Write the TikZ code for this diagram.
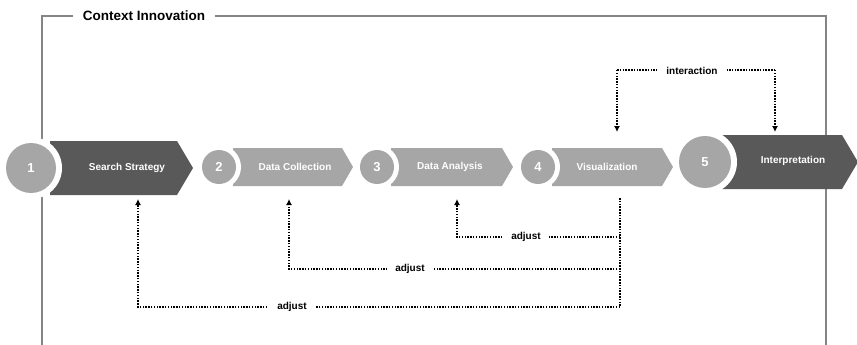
\documentclass[tikz,border=0pt]{standalone}
\usepackage{fontspec}
\setmainfont{Liberation Sans}
\usetikzlibrary{arrows.meta}
\definecolor{darkg}{HTML}{595959}
\definecolor{lightg}{HTML}{A6A6A6}
\definecolor{frameg}{HTML}{858585}
\tikzset{
  framestyle/.style={draw=frameg,line width=1.6pt},
  dotline/.style={line width=1.8pt,dash pattern=on 1.5pt off 1.3pt,black},
  dotarrow/.style={dotline,-{Latex[length=6pt,width=6pt]}},
  lbl/.style={fill=white,inner ysep=1pt,inner xsep=8pt,font=\bfseries\fontsize{10}{12}\selectfont},
  steptext/.style={text=white,font=\bfseries\fontsize{10}{12}\selectfont},
  numtext/.style={text=white,font=\bfseries\fontsize{13}{15}\selectfont},
}
\begin{document}
\begin{tikzpicture}[x=1pt,y=-1pt]
\useasboundingbox (0,0) rectangle (857,345);
% frame
\draw[framestyle] (42,345) -- (42,16) -- (826,16) -- (826,345);
\node[fill=white,inner xsep=10pt,inner ysep=2pt,font=\bfseries\fontsize{13.5}{16}\selectfont] (title) at (144,16) {Context Innovation};
% chevrons
\fill[darkg] (50,141) -- (177,141) -- (193,168) -- (177,195) -- (50,195) -- cycle;
\fill[lightg] (233,148) -- (342,148) -- (353,167) -- (342,186) -- (233,186) -- cycle;
\fill[lightg] (391,148) -- (502,148) -- (513,167) -- (502,186) -- (391,186) -- cycle;
\fill[lightg] (552,148) -- (662,148) -- (673,167) -- (662,186) -- (552,186) -- cycle;
\fill[darkg] (722,135) -- (842,135) -- (858,162) -- (842,189) -- (722,189) -- cycle;
% circles with white ring
\fill[white] (31,168) circle (31);
\fill[white] (219,167) circle (22);
\fill[white] (377,167) circle (22);
\fill[white] (538,167) circle (22);
\fill[white] (705,162) circle (32);
\node[circle,fill=lightg,minimum size=50pt,inner sep=0pt,numtext] (c1) at (31,168) {1};
\node[circle,fill=lightg,minimum size=34pt,inner sep=0pt,numtext] (c2) at (219,167) {2};
\node[circle,fill=lightg,minimum size=34pt,inner sep=0pt,numtext] (c3) at (377,167) {3};
\node[circle,fill=lightg,minimum size=34pt,inner sep=0pt,numtext] (c4) at (538,167) {4};
\node[circle,fill=lightg,minimum size=52pt,inner sep=0pt,numtext] (c5) at (705,162) {5};
% step texts
\node[steptext] (s1) at (127,168) {Search Strategy};
\node[steptext] (s2) at (295,167) {Data Collection};
\node[steptext] (s3) at (450,167) {Data Analysis};
\node[steptext] (s4) at (607,167) {Visualization};
\node[steptext] (s5) at (793,161) {Interpretation};
% connector anchor points
\coordinate (vtop) at (620,198);
\coordinate (vbot) at (620,307);
\coordinate (j1) at (620,237);
\coordinate (j2) at (620,269);
\coordinate (k1) at (457,237);
\coordinate (k2) at (289,269);
\coordinate (k3) at (138,307);
\coordinate (e1) at (457,199);
\coordinate (e2) at (289,199);
\coordinate (e3) at (138,199);
\coordinate (i1) at (617,70);
\coordinate (i2) at (775,70);
\coordinate (f1) at (617,132);
\coordinate (f2) at (775,132);
% adjust connectors
\draw[dotline] (vtop) -- (vbot);
\draw[dotarrow] (j1) -- (k1) -- (e1);
\draw[dotarrow] (j2) -- (k2) -- (e2);
\draw[dotarrow] (vbot) -- (k3) -- (e3);
\node[lbl] (a1) at (526,237) {adjust};
\node[lbl] (a2) at (410,269) {adjust};
\node[lbl,inner xsep=9pt] (a3) at (292,307) {adjust};
% interaction
\draw[dotarrow] (i1) -- (f1);
\draw[dotarrow] (i2) -- (f2);
\draw[dotline] (i1) -- (i2);
\node[lbl,inner xsep=9pt] (ia) at (692,71) {interaction};
\end{tikzpicture}
\end{document}
